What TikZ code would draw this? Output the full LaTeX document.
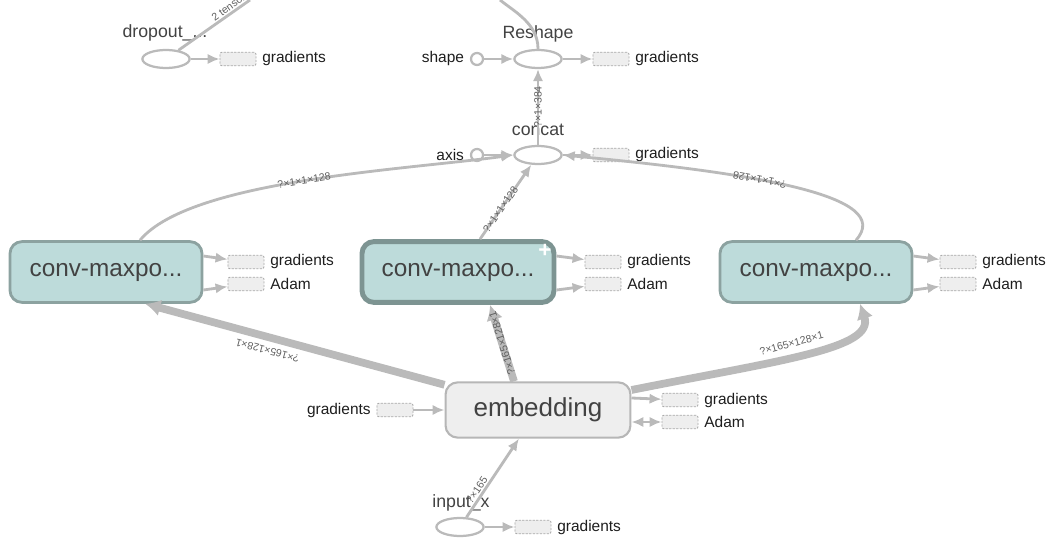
\documentclass[tikz,border=0pt]{standalone}
\usepackage{fontspec}
\setmainfont{Liberation Sans}
\usetikzlibrary{arrows.meta, positioning, shapes.geometric}

\definecolor{edgegray}{RGB}{186,186,186}
\definecolor{dashgray}{RGB}{170,170,170}
\definecolor{boxfill}{RGB}{238,238,238}
\definecolor{convfill}{RGB}{189,219,218}
\definecolor{convdraw}{RGB}{140,162,160}
\definecolor{convdark}{RGB}{125,148,146}
\definecolor{embdraw}{RGB}{182,182,182}
\definecolor{titlegray}{RGB}{66,66,66}
\definecolor{labelblack}{RGB}{30,30,30}
\definecolor{tensorgray}{RGB}{95,95,95}

\tikzset{
  opnode/.style={ellipse, draw=edgegray, line width=1.6pt, minimum width=1.18cm,
                 minimum height=0.45cm, inner sep=0pt},
  constnode/.style={circle, draw=edgegray, line width=1.6pt, minimum size=0.3cm, inner sep=0pt},
  gradbox/.style={draw=dashgray, dashed, dash pattern=on 1.5pt off 1pt, fill=boxfill,
                  rounded corners=1.5pt, minimum width=0.9cm, minimum height=0.34cm,
                  inner sep=0pt, line width=0.6pt},
  convbox/.style={draw=convdraw, fill=convfill, line width=2pt, rounded corners=0.3cm,
                  minimum width=4.8cm, minimum height=1.52cm, text=titlegray,
                  font=\fontsize{17.3}{19}\selectfont},
  embbox/.style={draw=embdraw, fill=boxfill, line width=1.5pt, rounded corners=0.3cm,
                 minimum width=4.62cm, minimum height=1.38cm, text=titlegray,
                 font=\fontsize{18.5}{20}\selectfont},
  lbl/.style={font=\fontsize{11}{13}\selectfont, text=labelblack, inner sep=0pt},
  title/.style={font=\fontsize{12.6}{15}\selectfont, text=titlegray, inner sep=0pt},
  line/.style={draw=edgegray, line width=2pt, -{Latex[length=3mm,width=2.6mm]}},
  bothline/.style={draw=edgegray, line width=2pt, {Latex[length=3mm,width=2.6mm]}-{Latex[length=3mm,width=2.6mm]}},
  thickedge/.style={draw=edgegray, line width=5.5pt, -{Latex[length=3.8mm,width=4.2mm]}},
  tensor/.style={font=\fontsize{7.5}{8}\selectfont, text=tensorgray, sloped, allow upside down,
                 inner sep=1pt},
}

\begin{document}
\begin{tikzpicture}[x=0.025cm, y=-0.025cm]
\useasboundingbox (0,0) rectangle (1054,538);

% dropout
\node[opnode] (dropout) at (166,59) {};
\node[title] (dropoutlbl) at (165,33) {dropout\_...};
\node[gradbox] (dropoutg) at (238,59) {};
\node[lbl, right=4pt of dropoutg] (dropoutgt) {gradients};
\coordinate (dropoutout) at (250,0);

% reshape and concat
\node[opnode] (reshape) at (538,59) {};
\node[title] (reshapelbl) at (538,34) {Reshape};
\node[constnode] (shape) at (477,59) {};
\node[lbl, left=4pt of shape] (shapet) {shape};
\node[gradbox] (reshapeg) at (611,59) {};
\node[lbl, right=4pt of reshapeg] (reshapegt) {gradients};
\coordinate (reshapeout) at (500,0);

\node[opnode] (concat) at (538,155) {};
\node[title] (concatlbl) at (538,130) {concat};
\node[constnode] (axis) at (477,155) {};
\node[lbl, left=4pt of axis] (axist) {axis};
\node[gradbox] (concatg) at (611,155) {};
\node[lbl, right=4pt of concatg] (concatgt) {gradients};

% conv blocks
\node[convbox] (convL) at (106,272) {conv-maxpo...};
\node[convbox, draw=convdark, line width=3.5pt] (convM) at (458,272) {conv-maxpo...};
\node[text=white, font=\bfseries\fontsize{16}{16}\selectfont, inner sep=0pt] (plusM) at (545,251) {+};
\node[convbox] (convR) at (816,272) {conv-maxpo...};

\node[gradbox] (gL) at (246,262) {};
\node[gradbox] (aL) at (246,284) {};
\node[lbl, right=4pt of gL] (gLt) {gradients};
\node[lbl, right=4pt of aL] (aLt) {Adam};
\node[gradbox] (gM) at (603,262) {};
\node[gradbox] (aM) at (603,284) {};
\node[lbl, right=4pt of gM] (gMt) {gradients};
\node[lbl, right=4pt of aM] (aMt) {Adam};
\node[gradbox] (gR) at (958,262) {};
\node[gradbox] (aR) at (958,284) {};
\node[lbl, right=4pt of gR] (gRt) {gradients};
\node[lbl, right=4pt of aR] (aRt) {Adam};

% embedding and input
\node[embbox] (emb) at (538,410) {embedding};
\node[gradbox] (embgin) at (395,410) {};
\node[lbl, left=4pt of embgin] (embgint) {gradients};
\node[gradbox] (embg) at (680,400) {};
\node[gradbox] (emba) at (680,422) {};
\node[lbl, right=4pt of embg] (embgt) {gradients};
\node[lbl, right=4pt of emba] (embat) {Adam};

\node[opnode] (inputx) at (460,527) {};
\node[title] (inputxlbl) at (461,503) {input\_x};
\node[gradbox] (inputg) at (533,527) {};
\node[lbl, right=4pt of inputg] (inputgt) {gradients};

% edges
\draw[line, -] (dropout) -- (dropoutout) node[tensor, pos=0.78, above=0pt] {2 tensors};
\draw[line] (dropout) -- (dropoutg);

\draw[line, -] (reshape.north) .. controls +(0,-25) and +(15,12) .. (reshapeout);
\draw[line] (shape) -- (reshape);
\draw[line] (reshape) -- (reshapeg);
\draw[line] (concat) -- (reshape) node[tensor, midway] {?×1×384};
\draw[line] (axis) -- (concat);
\draw[line] (concat) -- (concatg);

\draw[line] ([xshift=0.85cm]convL.north) .. controls +(50,-60) and +(-110,15) .. (concat.west)
  node[tensor, pos=0.5] {?×1×1×128};
\draw[line] ([xshift=0.55cm]convM.north) -- (concat) node[tensor, pos=0.4] {?×1×1×128};
\draw[line] ([xshift=1cm]convR.north) .. controls +(40,-45) and +(190,18) .. (concat.east)
  node[tensor, pos=0.6] {?×1×1×128};

\draw[line] ([yshift=0.4cm]convL.east) -- (gL);
\draw[line] ([yshift=-0.45cm]convL.east) -- (aL);
\draw[line] ([yshift=0.4cm]convM.east) -- (gM);
\draw[line] ([yshift=-0.45cm]convM.east) -- (aM);
\draw[line] ([yshift=0.4cm]convR.east) -- (gR);
\draw[line] ([yshift=-0.45cm]convR.east) -- (aR);

\draw[thickedge] (emb) -- ([xshift=0.98cm]convL.south)
  node[tensor, pos=0.58, above=3pt] {?×165×128×1};
\draw[thickedge] ([xshift=-0.6cm]emb.north) -- ([xshift=0.8cm]convM.south)
  node[tensor, midway] {?×165×128×1};
\draw[thickedge] ([yshift=0.5cm]emb.east) .. controls +(150,-30) and +(15,45) .. ([xshift=1.1cm]convR.south)
  node[tensor, pos=0.45, above=3pt] {?×165×128×1};

\draw[line] (embgin) -- (emb);
\draw[line] ([yshift=0.3cm]emb.east) -- (embg);
\draw[bothline] (emb.east |- emba) -- (emba);
\draw[line] (inputx) -- (emb) node[tensor, pos=0.3, above=0pt] {?×165};
\draw[line] (inputx) -- (inputg);
\end{tikzpicture}
\end{document}
